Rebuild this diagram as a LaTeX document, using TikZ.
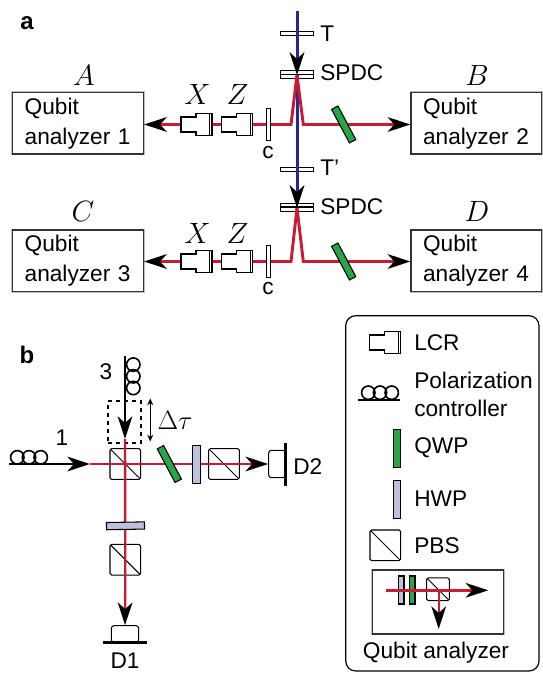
\documentclass[tikz,border=0pt]{standalone}
\usepackage{fix-cm}
\usepackage{fontspec}
\setmainfont{Liberation Sans}
\usetikzlibrary{arrows,arrows.meta}
\usetikzlibrary{calc}
\definecolor{beamred}{RGB}{200, 28, 52}
\definecolor{beamblue}{RGB}{40, 40, 140}
\definecolor{qwpgreen}{RGB}{40, 165, 70}
\definecolor{hwplilac}{RGB}{190, 192, 222}
\tikzset{
	lbl/.style={inner sep=0pt, font=\fontsize{17}{22.5}\selectfont},
	lblleft/.style={lbl, anchor=west},
	party/.style={inner sep=0pt, font=\fontsize{22}{26}\selectfont},
	panel/.style={inner sep=0pt, font=\fontsize{18}{20}\selectfont\bfseries},
	keybox/.style={draw=black!80, line width=1.1pt, preaction={draw=black!25, line width=2.2pt}, fill=white},
	analyzer/.style={keybox, lbl, inner xsep=9pt, inner ysep=3.5pt, text width=80pt, align=left, minimum height=46pt},
	plate/.style={draw, fill=white, line width=0.8pt, inner sep=0pt, minimum width=24.5pt, minimum height=2.9pt},
	cplate/.style={plate, minimum width=3pt, minimum height=24.5pt},
	waveplate/.style={draw, line width=0.8pt, inner sep=0pt, minimum width=5.4pt, minimum height=28.5pt},
	qwp/.style={waveplate, fill=qwpgreen},
	hwp/.style={waveplate, fill=hwplilac},
	pbs/.style={draw, fill=white, line width=0.8pt, rounded corners=1.2pt, inner sep=0pt, minimum size=23pt,
		path picture={\draw[line width=0.7pt] (path picture bounding box.north west) -- (path picture bounding box.south east);}},
	detector/.style={draw, fill=white, line width=0.8pt, rounded corners=2pt, inner sep=0pt},
	redbeam/.style={draw=beamred, line width=2.2pt},
	redthin/.style={draw=beamred, line width=1.8pt},
	bluebeam/.style={draw=beamblue, line width=2.25pt},
	fibre/.style={draw=black, line width=1.7pt},
	lcr/.pic={
		\draw[fill=white, line width=0.9pt] (-15.5,-7.5) -- (-0.5,-7.5) -- (-0.5,-11) -- (15.5,-11) -- (15.5,11) -- (-0.5,11) -- (-0.5,7.5) -- (-15.5,7.5) -- cycle;
		\draw[line width=0.6pt] (13,-11) -- (13,11);
	},
	coils/.pic={
		\foreach \c in {-11.7,0,11.7} \draw[line width=1.2pt] (\c,0) circle (6.7);
	}
}

\begin{document}
\begin{tikzpicture}[x=0.75pt, y=-0.75pt, >={Stealth[color=black,length=17pt,width=11pt,inset=5pt]}]

	\useasboundingbox (0,0) rectangle (542,673);

	\node[panel] (labelA) at (27,23) {a};
	\node[panel] (labelB) at (27,355) {b};

	% panel a
	\coordinate (pumpTop) at (297,11);
	\coordinate (apexOne) at (297,75);
	\coordinate (apexTwo) at (297,208);
	\coordinate (footOneL) at (291,124.5);
	\coordinate (footOneR) at (303.3,124.5);
	\coordinate (footTwoL) at (291,261.5);
	\coordinate (footTwoR) at (303.3,261.5);

	\node[analyzer] (analyzerOne) at (78,123.3) {Qubit\\analyzer 1};
	\node[analyzer] (analyzerTwo) at (476.4,123.3) {Qubit\\analyzer 2};
	\node[analyzer] (analyzerThree) at (78,260.8) {Qubit\\analyzer 3};
	\node[analyzer] (analyzerFour) at (476.4,260.8) {Qubit\\analyzer 4};

	\node[party] (partyA) at (84,75) {$A$};
	\node[party] (partyB) at (477,75) {$B$};
	\node[party] (partyC) at (83,211) {$C$};
	\node[party] (partyD) at (477,211) {$D$};

	\node[plate] (plateT) at (297,33.5) {};
	\node[plate] (plateTp) at (297,169.5) {};
	\node[plate] (spdcOneA) at (297,72.5) {};
	\node[plate] (spdcOneB) at (297,76.5) {};
	\node[plate] (spdcTwoA) at (297,205) {};
	\node[plate] (spdcTwoB) at (297,209.5) {};

	\node[lblleft] (textT) at (320,33.5) {T};
	\node[lblleft] (textTp) at (320,168) {T'};
	\node[lblleft] (textSpdcOne) at (320,73) {SPDC};
	\node[lblleft] (textSpdcTwo) at (320,207) {SPDC};

	\draw[bluebeam, ->] (pumpTop) -- (apexOne);
	\draw[bluebeam, ->] (apexOne) -- (apexTwo);

	\draw[redbeam, ->] (apexOne) -- (footOneL) -- (analyzerOne.east |- footOneL);
	\draw[redbeam, ->] (apexOne) -- (footOneR) -- (analyzerTwo.west |- footOneR);
	\draw[redbeam, ->] (apexTwo) -- (footTwoL) -- (analyzerThree.east |- footTwoL);
	\draw[redbeam, ->] (apexTwo) -- (footTwoR) -- (analyzerFour.west |- footTwoR);

	\pic (lcrXone) at (196.5,124.5) {lcr};
	\pic (lcrZone) at (237,124.5) {lcr};
	\pic (lcrXtwo) at (196.5,261.5) {lcr};
	\pic (lcrZtwo) at (237,261.5) {lcr};

	\node[party] (textXone) at (197.5,94) {$X$};
	\node[party] (textZone) at (237.5,94) {$Z$};
	\node[party] (textXtwo) at (197.5,233) {$X$};
	\node[party] (textZtwo) at (237.5,233) {$Z$};

	\node[cplate] (plateCone) at (268.5,124.5) {};
	\node[cplate] (plateCtwo) at (268.5,261.5) {};
	\node[lbl] (textCone) at (268,153) {c};
	\node[lbl] (textCtwo) at (268,289) {c};

	\node[qwp, rotate=28] (qwpOne) at (343.7,124.5) {};
	\node[qwp, rotate=28] (qwpTwo) at (343.7,261.5) {};

	% panel b
	\coordinate (fibreThree) at (125,356);
	\coordinate (fibreOne) at (9,464);
	\coordinate (inOne) at (90,464);
	\coordinate (inThree) at (125,439);

	\node[draw, dashed, line width=0.8pt, minimum width=24.75pt, minimum height=31.5pt, inner sep=0pt] (delayBox) at (124.5,422) {};
	\node[pbs] (pbsCentre) at (125.3,464) {};
	\node[pbs] (pbsRight) at (224,464) {};
	\node[pbs] (pbsDown) at (125.3,559.7) {};
	\node[detector, minimum width=12.5pt, minimum height=20.5pt] (detTwo) at (277,464) {};
	\node[detector, minimum width=20.5pt, minimum height=12.5pt] (detOne) at (125,634) {};

	\draw[redthin] (inOne) -- (pbsRight.east);
	\draw[redthin] (inThree) -- (pbsDown.south);
	\draw[redthin, ->] (pbsRight.east) -- (detTwo.west);
	\draw[redthin, ->] (pbsDown.south) -- (detOne.north);
	\draw[fibre, ->] (fibreOne) -- (inOne);
	\draw[fibre, ->] (fibreThree) -- (inThree);

	\node[qwp, rotate=28] (qwpB) at (169.3,464) {};
	\node[hwp] (hwpRight) at (196.5,464.5) {};
	\node[hwp, rotate=91] (hwpDown) at (125.5,525.8) {};

	\draw[line width=0.8pt, {Stealth[length=5pt,width=4.5pt]}-{Stealth[length=5pt,width=4.5pt]}] (delayBox.north east) ++(8.7,-2) -- ++(0,43);

	\pic (coilsThree) [rotate=90] at (133.3,376.3) {coils};
	\pic (coilsOne) at (29,457.3) {coils};

	\draw[line width=2pt] (285.7,442.7) -- (285.7,486);
	\draw[line width=2pt] (103,642.7) -- (147,642.7);

	\node[lbl] (textThree) at (106,372) {3};
	\node[lbl] (textOne) at (62,438) {1};
	\node[party, font=\fontsize{20}{22}\selectfont] (textDelay) at (175,420) {$\Delta\tau$};
	\node[lblleft] (textDtwo) at (293,466.7) {D2};
	\node[lbl] (textDone) at (125,661) {D1};

	% legend
	\draw[line width=0.9pt, rounded corners=7.5pt] (345.7,315.7) rectangle (539,671);
	\pic (lcrLegend) at (385,342.5) {lcr};
	\pic (coilsLegend) at (380,392.7) {coils};
	\draw[line width=1.2pt] (358,400) -- (400,400);
	\node[qwp] (qwpLegend) at (397,448.3) {};
	\node[hwp] (hwpLegend) at (397,499.5) {};
	\node[pbs] (pbsLegend) at (385.3,545.3) {};

	\node[lblleft] (textLcr) at (414,343) {LCR};
	\node[lblleft] (textPol) at (414,380) {Polarization};
	\node[lblleft] (textCon) at (414,408) {controller};
	\node[lblleft] (textQwp) at (414,448) {QWP};
	\node[lblleft] (textHwp) at (414,499) {HWP};
	\node[lblleft] (textPbs) at (414,546) {PBS};

	\node[keybox, minimum width=98.25pt, minimum height=48pt, inner sep=0pt] (analyzerKey) at (437.8,602) {};
	\node[hwp, minimum width=4pt, minimum height=21pt] (hwpKey) at (401.3,590) {};
	\node[qwp, minimum width=4pt, minimum height=21pt] (qwpKey) at (412.3,590) {};
	\node[pbs, minimum size=17pt] (pbsKey) at (438,589.2) {};
	\coordinate (keyIn) at (386,590.3);
	\coordinate (keyOut) at (488.3,590.3);
	\coordinate (keySplit) at (438.7,590.3);
	\coordinate (keyDown) at (438.7,629);
	\draw[redthin, ->] (keyIn) -- (keyOut);
	\draw[redthin, ->] (keySplit) -- (keyDown);
	\node[lbl] (textKey) at (436,653) {Qubit analyzer};

\end{tikzpicture}
\end{document}
